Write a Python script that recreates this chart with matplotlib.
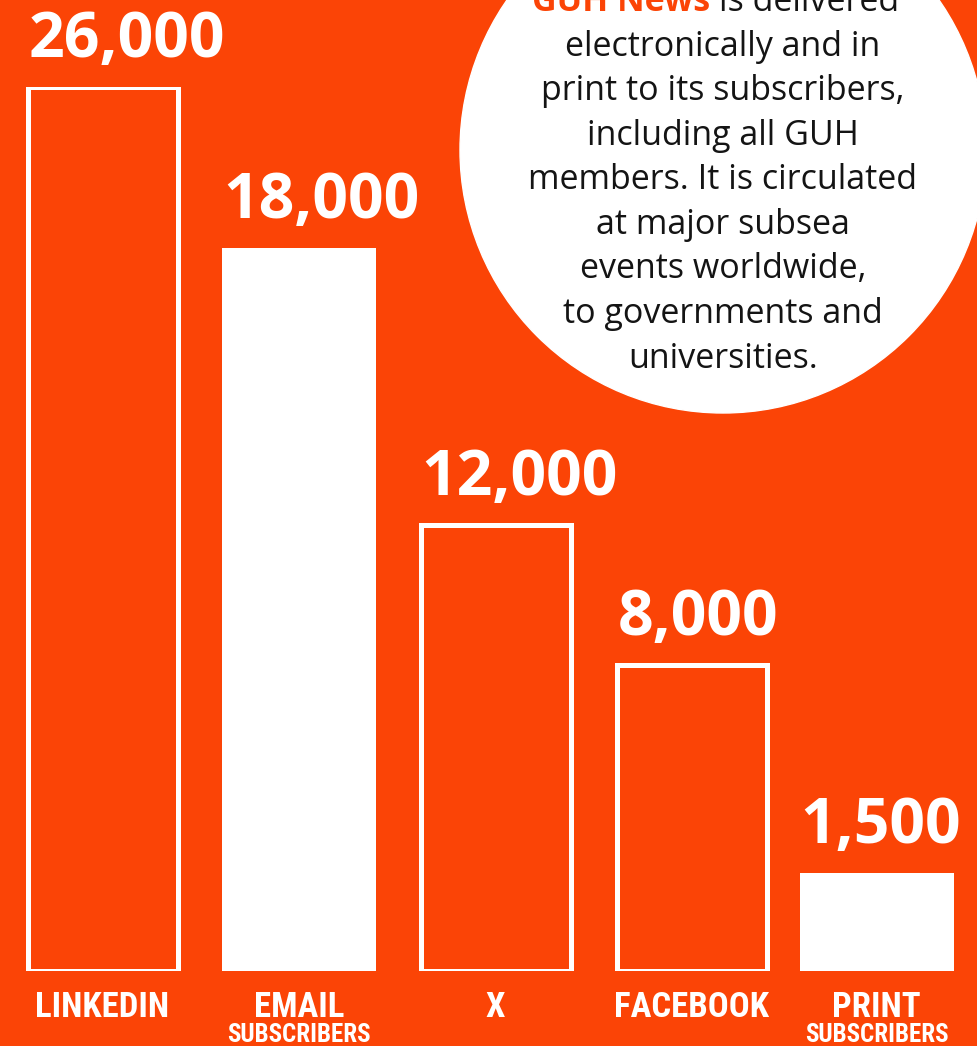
import matplotlib
matplotlib.use('Agg')
import matplotlib.pyplot as plt
from matplotlib.patches import Circle

# data
categories = ['LINKEDIN', 'EMAIL', 'X', 'FACEBOOK', 'PRINT']
sublabels = ['', 'SUBSCRIBERS', '', '', 'SUBSCRIBERS']
values = [26000, 18000, 12000, 8000, 1500]
# bar lengths as drawn in the graphic (the graphic is not to scale)
bar_heights = [26000, 21270, 13130, 9010, 2870]
filled = [False, True, False, False, True]

blurb_lead = 'GUH News'
blurb_first = 'is delivered'
blurb = ['electronically and in', 'print to its subscribers,',
         'including all GUH', 'members. It is circulated',
         'at major subsea', 'events worldwide,',
         'to governments and', 'universities.']

ORANGE = '#fb4406'
INK = '#141414'
W, H = 977, 1046
xpos = [0, 1, 2, 3, 3.94]   # layout: last bar sits a little closer
step = 196.5                # px per x unit

fig = plt.figure(figsize=(W / 100, H / 100), dpi=100)
fig.patch.set_facecolor(ORANGE)

# background layer in pixel coordinates
bg = fig.add_axes([0, 0, 1, 1])
bg.set_xlim(0, W)
bg.set_ylim(H, 0)
bg.axis('off')
bg.add_patch(Circle((723, 150), 263, color='white', zorder=1))

para = dict(family=['Open Sans', 'DejaVu Sans'], fontsize=24.5, color=INK,
            va='baseline', zorder=3)
bg.text(710, 11, blurb_lead, ha='right', fontweight='bold',
        **{**para, 'color': ORANGE})
bg.text(719, 11, blurb_first, ha='left', **para)
for i, line in enumerate(blurb):
    bg.text(723, 55.5 + i * 44.6, line, ha='center', **para)

# bars
ax = fig.add_axes([0, (H - 970.5) / H, 1, 883 / H])
ax.patch.set_alpha(0)
ax.set_xlim(-102.5 / step, (W - 102.5) / step)
ax.set_ylim(0, 26000)
ax.axis('off')

num_font = dict(family=['Open Sans', 'DejaVu Sans'], fontweight='bold',
                fontsize=45, color='white')
cat_font = dict(family=['Roboto Condensed', 'Liberation Sans Narrow',
                        'DejaVu Sans'],
                fontstretch='condensed', fontweight='bold', color='white')

for x, h, v, fill, cat, sub in zip(xpos, bar_heights, values, filled,
                                   categories, sublabels):
    if fill:
        w = 154 / step
        ax.bar(x, h, w, color='white', linewidth=0)
    else:
        w = 150 / step
        ax.bar(x, h, w, facecolor='none', edgecolor='white', linewidth=3.6)
    ax.annotate(f'{v:,}', (x - w / 2, h), xytext=(1, 30),
                textcoords='offset pixels', ha='left', va='baseline',
                annotation_clip=False, **num_font)
    ax.annotate(cat, (x, 0), xytext=(0, -46.5), textcoords='offset pixels',
                ha='center', va='baseline', fontsize=25,
                annotation_clip=False, **cat_font)
    if sub:
        ax.annotate(sub, (x, 0), xytext=(0, -71.5),
                    textcoords='offset pixels', ha='center', va='baseline',
                    fontsize=18, annotation_clip=False, **cat_font)

fig.savefig('out.png', dpi=100, facecolor=ORANGE)
